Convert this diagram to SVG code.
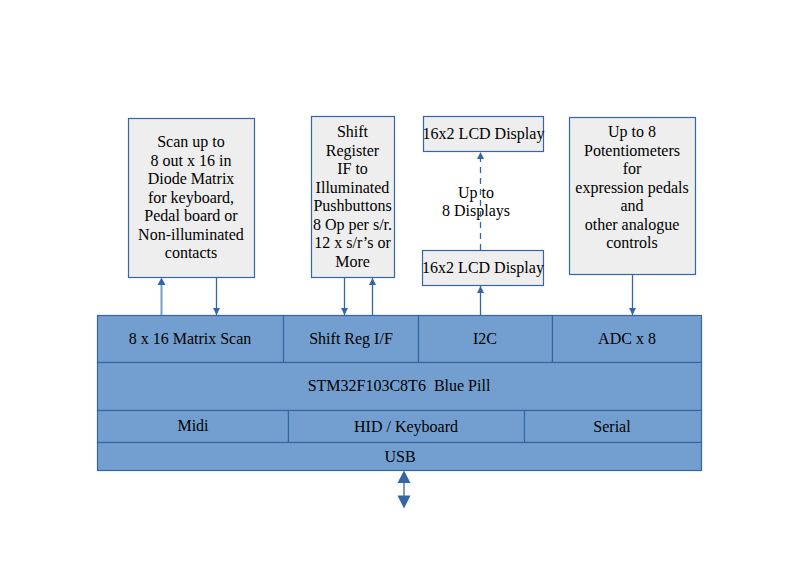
<svg xmlns="http://www.w3.org/2000/svg" width="795" height="561" viewBox="0 0 795 561">
<style>
text{font-family:"Liberation Serif","DejaVu Serif",serif;font-size:16px;fill:#000;text-anchor:middle}
.box{fill:#eeeeee;stroke:#3465a4;stroke-width:1.2}
.blk{fill:#729fcf;stroke:#3465a4;stroke-width:1.2}
.ln{stroke:#3465a4;stroke-width:1.3;fill:none}
.lt{stroke:#729fcf;stroke-width:2;fill:none}
.ds{stroke:#3465a4;stroke-width:1.3;fill:none;stroke-dasharray:6,5}
</style>
<defs>
<marker id="ah" viewBox="0 0 10 10" refX="10" refY="5" markerWidth="7" markerHeight="7" markerUnits="userSpaceOnUse" orient="auto">
<path d="M0,0 L10,5 L0,10 z" fill="#3465a4"/>
</marker>
</defs>
<rect width="795" height="561" fill="#fff"/>

<g id="scan-box">
<rect class="box" x="128.5" y="118.5" width="126" height="159"/>
<text x="191" y="147">Scan up to</text>
<text x="191" y="165.5">8 out x 16 in</text>
<text x="191" y="184">Diode Matrix</text>
<text x="191" y="202.5">for keyboard,</text>
<text x="191" y="221">Pedal board or</text>
<text x="191" y="239.5">Non-illuminated</text>
<text x="191" y="258">contacts</text>
</g>

<g id="shift-box">
<rect class="box" x="311.5" y="116.5" width="83" height="161"/>
<text x="352.5" y="137">Shift</text>
<text x="352.5" y="155.5">Register</text>
<text x="352.5" y="174">IF to</text>
<text x="352.5" y="192.5">Illuminated</text>
<text x="352.5" y="211">Pushbuttons</text>
<text x="352.5" y="229.5">8 Op per s/r.</text>
<text x="352.5" y="248">12 x s/r’s or</text>
<text x="352.5" y="266.5">More</text>
</g>

<g id="lcd-top">
<rect class="box" x="423.5" y="116.5" width="120" height="35"/>
<text x="483.5" y="139">16x2 LCD Display</text>
</g>

<g id="lcd-bottom">
<rect class="box" x="422.5" y="250.5" width="121" height="35"/>
<text x="483" y="273">16x2 LCD Display</text>
</g>

<g id="displays-label">
<text x="476" y="197.5">Up to</text>
<text x="476" y="216">8 Displays</text>
</g>

<g id="pot-box">
<rect class="box" x="569.5" y="117.5" width="126" height="157"/>
<text x="632" y="137">Up to 8</text>
<text x="632" y="155.5">Potentiometers</text>
<text x="632" y="174">for</text>
<text x="632" y="192.5">expression pedals</text>
<text x="632" y="211">and</text>
<text x="632" y="229.5">other analogue</text>
<text x="632" y="248">controls</text>
</g>

<g id="mcu">
<rect class="blk" x="97.5" y="315.5" width="186" height="47"/>
<rect class="blk" x="283.5" y="315.5" width="135" height="47"/>
<rect class="blk" x="418.5" y="315.5" width="134" height="47"/>
<rect class="blk" x="552.5" y="315.5" width="149" height="47"/>
<rect class="blk" x="97.5" y="362.5" width="604" height="48"/>
<rect class="blk" x="97.5" y="410.5" width="191" height="32"/>
<rect class="blk" x="288.5" y="410.5" width="236" height="32"/>
<rect class="blk" x="524.5" y="410.5" width="177" height="32"/>
<rect class="blk" x="97.5" y="442.5" width="604" height="28"/>
<text x="190" y="344">8 x 16 Matrix Scan</text>
<text x="351" y="344">Shift Reg I/F</text>
<text x="485" y="344">I2C</text>
<text x="627" y="344">ADC x 8</text>
<text x="399" y="391">STM32F103C8T6&#160; Blue Pill</text>
<text x="193" y="431">Midi</text>
<text x="406" y="432">HID / Keyboard</text>
<text x="612" y="432">Serial</text>
<text x="400" y="462">USB</text>
</g>

<g id="connectors">
<line class="lt" x1="161.5" y1="315" x2="161.5" y2="284"/>
<path d="M157.5,285 L161.5,277.5 L165.5,285 z" fill="#3465a4"/>
<line class="ln" x1="216.5" y1="278" x2="216.5" y2="315" marker-end="url(#ah)"/>
<line class="ln" x1="344.5" y1="278" x2="344.5" y2="315" marker-end="url(#ah)"/>
<line class="ln" x1="372.5" y1="315" x2="372.5" y2="278" marker-end="url(#ah)"/>
<line class="ln" x1="480.5" y1="315" x2="480.5" y2="286" marker-end="url(#ah)"/>
<line class="ds" x1="480.5" y1="250" x2="480.5" y2="152" marker-end="url(#ah)"/>
<line class="ln" x1="632.5" y1="275" x2="632.5" y2="315" marker-end="url(#ah)"/>
<line class="ln" x1="404" y1="482" x2="404" y2="497"/>
<path d="M404,470.5 L410.5,483 L397.5,483 z" fill="#3465a4"/>
<path d="M397.5,495.5 L410.5,495.5 L404,508.5 z" fill="#3465a4"/>
</g>
</svg>
